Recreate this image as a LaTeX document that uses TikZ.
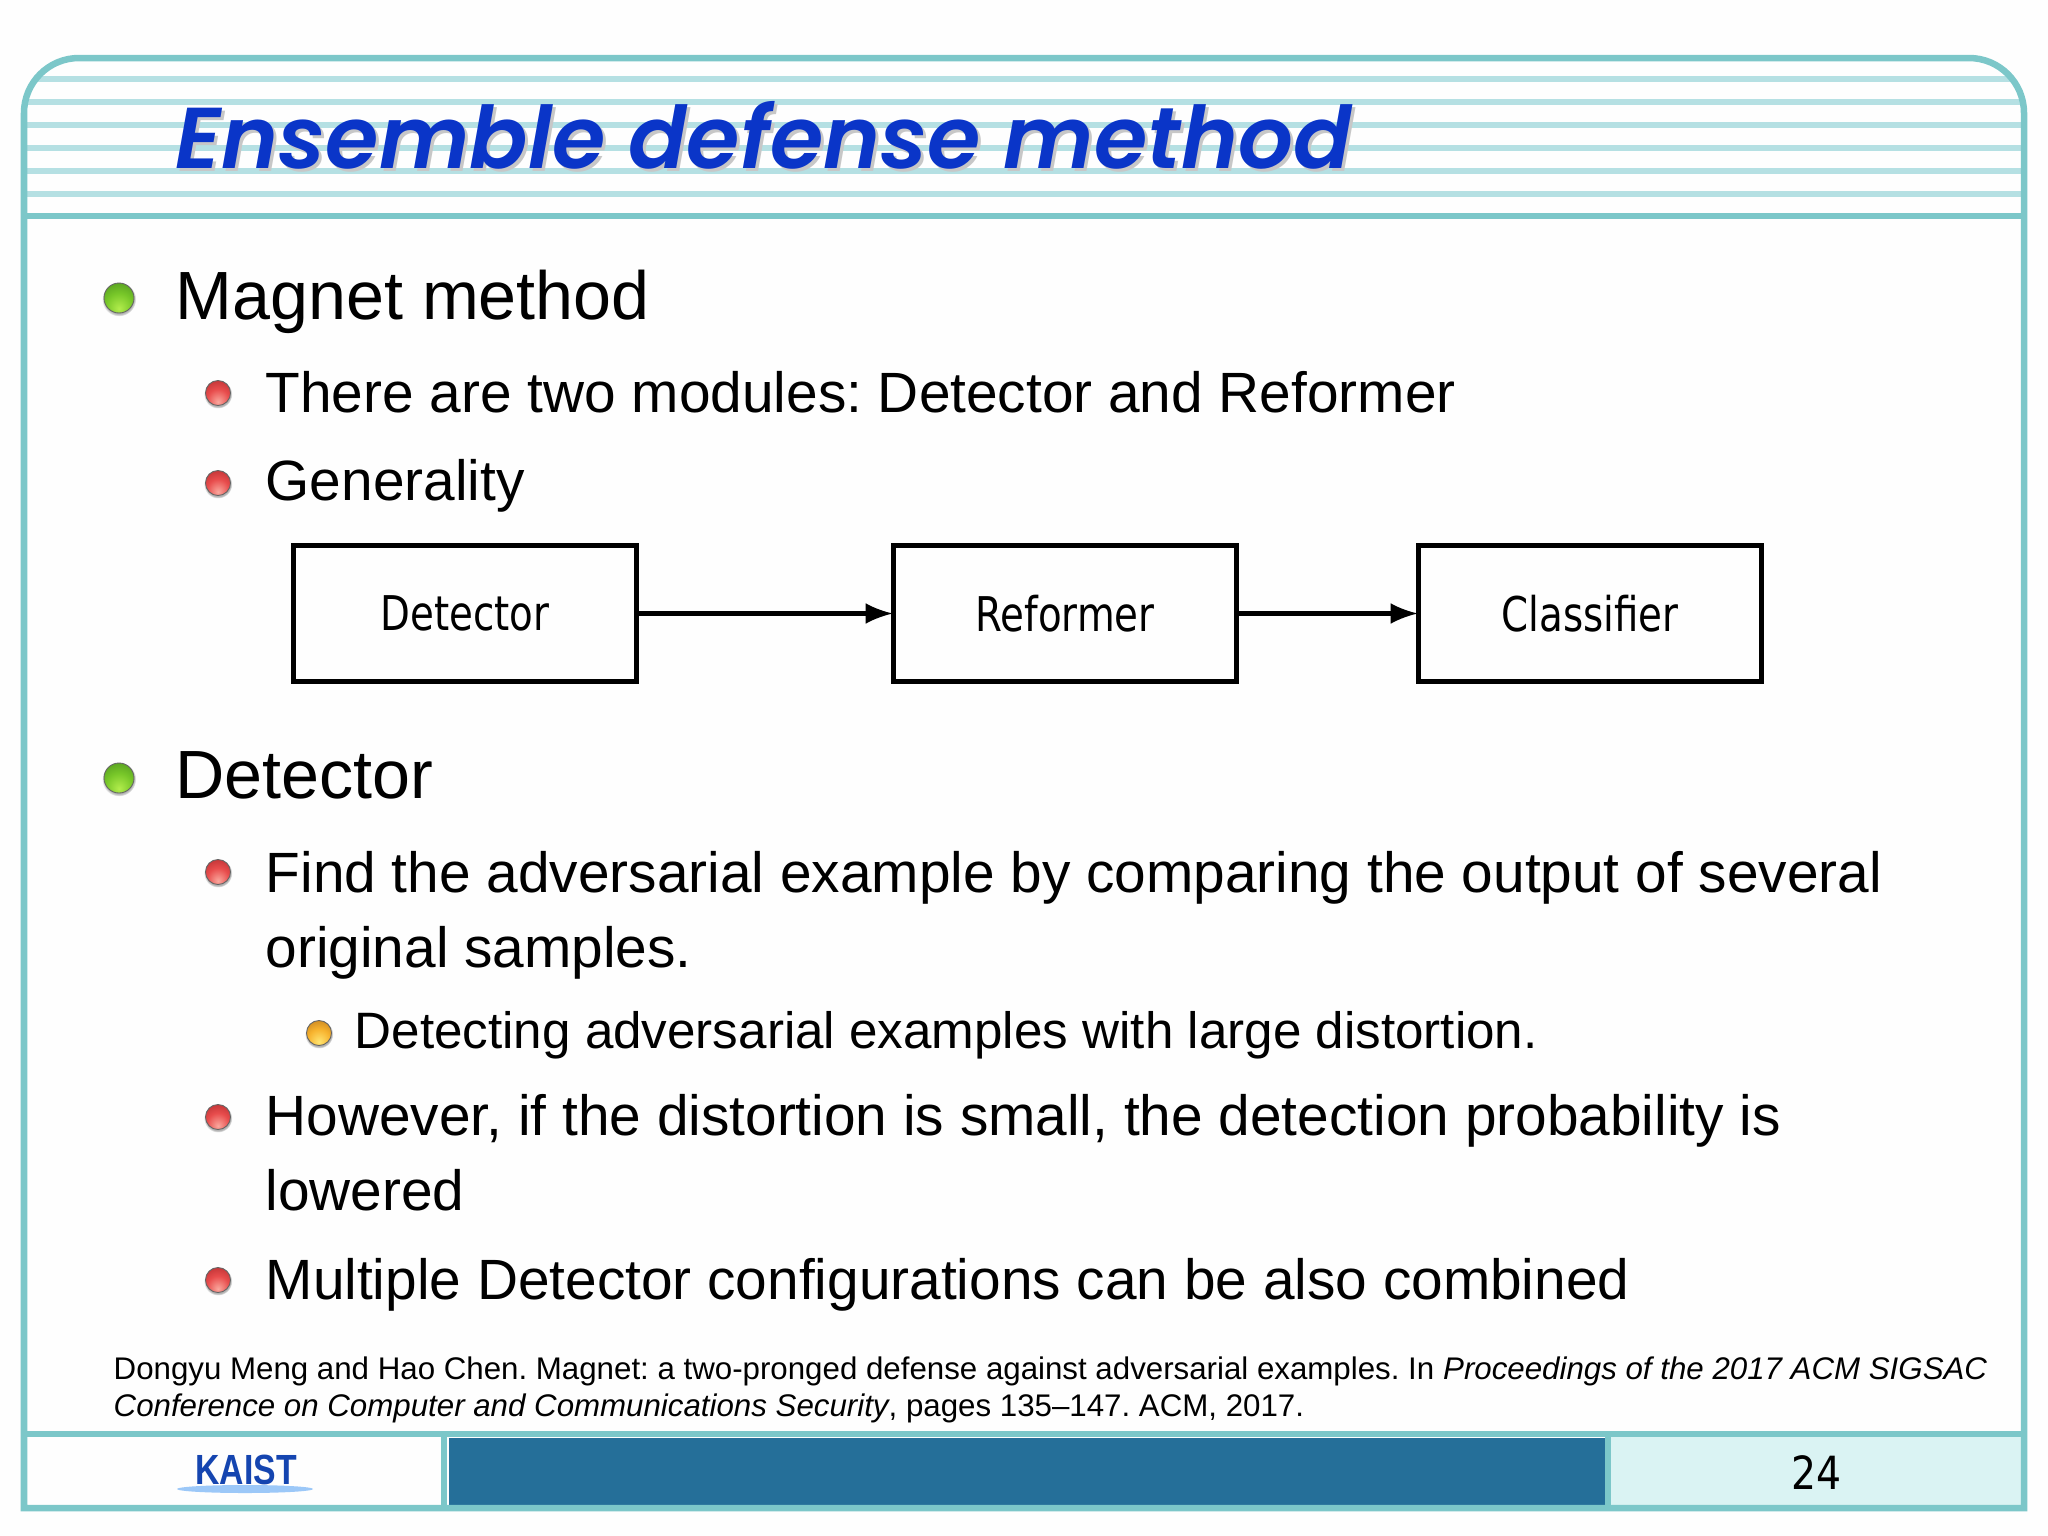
\documentclass[tikz,border=0pt]{standalone}
\usepackage{fontspec}
\setmainfont{Liberation Sans}
\newfontfamily\titlefont[BoldItalicFont={Poppins SemiBold Italic}]{Poppins}
\newfontfamily\boxfont[FakeStretch=0.81]{DejaVu Sans}
\newfontfamily\pagefont[FakeStretch=0.86]{DejaVu Sans}
\newfontfamily\logofont[FakeStretch=0.8]{Liberation Sans}
\usetikzlibrary{arrows,shadows}
\definecolor{framecol}{HTML}{7CC7C9}
\definecolor{stripecol}{HTML}{B5E0E3}
\definecolor{titlecol}{HTML}{0A35C8}
\definecolor{barcol}{HTML}{256F99}
\definecolor{pagecol}{HTML}{DAF3F3}
\definecolor{logocol}{HTML}{1545B0}
\definecolor{logolight}{HTML}{9CC8F8}
\pgfdeclareradialshading{greenball}{\pgfpoint{0bp}{-18bp}}{rgb(0bp)=(0.70,0.93,0.30);rgb(22bp)=(0.47,0.78,0.16);rgb(45bp)=(0.30,0.58,0.12);rgb(68bp)=(0.25,0.38,0.18);rgb(100bp)=(0.25,0.38,0.18)}
\pgfdeclareradialshading{redball}{\pgfpoint{0bp}{-18bp}}{rgb(0bp)=(0.98,0.66,0.62);rgb(22bp)=(0.91,0.30,0.30);rgb(45bp)=(0.70,0.17,0.18);rgb(68bp)=(0.40,0.18,0.18);rgb(100bp)=(0.40,0.18,0.18)}
\pgfdeclareradialshading{orangeball}{\pgfpoint{0bp}{-18bp}}{rgb(0bp)=(1,0.90,0.45);rgb(22bp)=(0.97,0.70,0.18);rgb(45bp)=(0.74,0.48,0.12);rgb(68bp)=(0.40,0.30,0.18);rgb(100bp)=(0.40,0.30,0.18)}
\tikzset{softdrop/.style={circular drop shadow={shadow xshift=0pt,shadow yshift=-0.3pt,shadow scale=1.14,fill=black!30}}}
\tikzset{bulletone/.style={circle,inner sep=0pt,minimum size=0.3cm,softdrop,draw=black!60,line width=0.25pt,shading=greenball}}
\tikzset{bullettwo/.style={circle,inner sep=0pt,minimum size=0.25cm,softdrop,draw=black!60,line width=0.25pt,shading=redball}}
\tikzset{bulletthree/.style={circle,inner sep=0pt,minimum size=0.25cm,softdrop,draw=black!60,line width=0.25pt,shading=orangeball}}
\tikzset{levelone/.style={anchor=base west,inner sep=0pt,font=\fontsize{19.4}{23}\selectfont}}
\tikzset{leveltwo/.style={anchor=base west,inner sep=0pt,font=\fontsize{16.15}{19}\selectfont}}
\tikzset{levelthree/.style={anchor=base west,inner sep=0pt,font=\fontsize{14.55}{17}\selectfont}}
\tikzset{refline/.style={anchor=base west,inner sep=0pt,font=\fontsize{8.89}{11}\selectfont}}
\tikzset{modbox/.style={draw=black,line width=0.052cm,minimum width=3.43cm,minimum height=1.36cm,inner sep=0pt,font=\boxfont\fontsize{13.6}{15}\selectfont}}
\tikzset{framepath/.style={line width=0.065cm,draw=framecol}}
\begin{document}
\frenchspacing
\begin{tikzpicture}[x=0.01cm,y=-0.01cm]
      \useasboundingbox (0,0) rectangle (2048,1536);
      \fill [white!99!gray] (0,0) rectangle (2048,1536);
      \begin{scope}
        \clip (24,216) {[rounded corners=0.55cm] -- (24,58) -- (2024,58) -- (2024,200)} -- (2024,216) -- cycle;
        \foreach \y in {79,102,125,148,171,194}
          \draw [stripecol,line width=0.06cm] (24,\y) -- (2024,\y);
      \end{scope}
      \fill [pagecol] (1608,1434) rectangle (2024,1508);
      \fill [barcol] (449,1438) rectangle (1605,1505);
      \draw [framepath] (24,1508) -- (24,300) {[rounded corners=0.55cm] -- (24,58) -- (2024,58) -- (2024,300)} -- (2024,1508) -- cycle;
      \draw [framepath] (24,216) -- (2024,216);
      \draw [framepath] (24,1434) -- (2024,1434);
      \draw [framepath] (444,1434) -- (444,1508);
      \draw [framepath] (1608,1434) -- (1608,1508);
      \node [anchor=base west,inner sep=0pt,black!22,font=\titlefont\bfseries\itshape\fontsize{24.55}{28}\selectfont] at (178,171) {Ensemble defense method};
      \node (title) [anchor=base west,inner sep=0pt,titlecol,font=\titlefont\bfseries\itshape\fontsize{24.55}{28}\selectfont] at (175,168) {Ensemble defense method};
      \foreach \y in {298,778}
        \node [bulletone] at (119,\y) {};
      \foreach \y in {393,483,872,1117,1280}
        \node [bullettwo] at (218,\y) {};
      \node [bulletthree] at (319,1033) {};
      \node (magnet) [levelone] at (175,319) {Magnet method};
      \node (modules) [leveltwo] at (265,412) {There are two modules: Detector and Reformer};
      \node (general) [leveltwo] at (265,500) {Generality};
      \node (detect) [levelone] at (175,798) {Detector};
      \node (find) [leveltwo] at (265,892) {Find the adversarial example by comparing the output of several};
      \node (orig) [leveltwo] at (265,967) {original samples.};
      \node (large) [levelthree] at (354,1048) {Detecting adversarial examples with large distortion.};
      \node (however) [leveltwo] at (265,1135) {However, if the distortion is small, the detection probability is};
      \node (lowered) [leveltwo] at (265,1210) {lowered};
      \node (multi) [leveltwo] at (265,1299) {Multiple Detector configurations can be also combined};
      \node (refa) [refline] at (113,1379) {Dongyu Meng and Hao Chen. Magnet: a two-pronged defense against adversarial examples. In \textit{Proceedings of the 2017 ACM SIGSAC}};
      \node (refb) [refline] at (113,1416) {\textit{Conference on Computer and Communications Security}, pages 135--147. ACM, 2017.};
      \node (detbox) [modbox] at (465,613.5) {Detector};
      \node (refbox) [modbox] at (1065,613.5) {Reformer};
      \node (clsbox) [modbox] at (1590,613.5) {Classifier};
      \draw [->,>=latex,line width=0.058cm,shorten >=-0.6pt] (detbox) -- (refbox);
      \draw [->,>=latex,line width=0.058cm,shorten >=-0.6pt] (refbox) -- (clsbox);
      \fill [logolight] (245,1489) ellipse (68 and 4);
      \node (kaist) [inner sep=0pt,logocol,font=\logofont\bfseries\fontsize{12}{14}\selectfont] at (246,1470) {KAIST};
      \node (pageno) [inner sep=0pt,font=\pagefont\fontsize{13}{15}\selectfont] at (1816,1473) {24};
\end{tikzpicture}
\end{document}
